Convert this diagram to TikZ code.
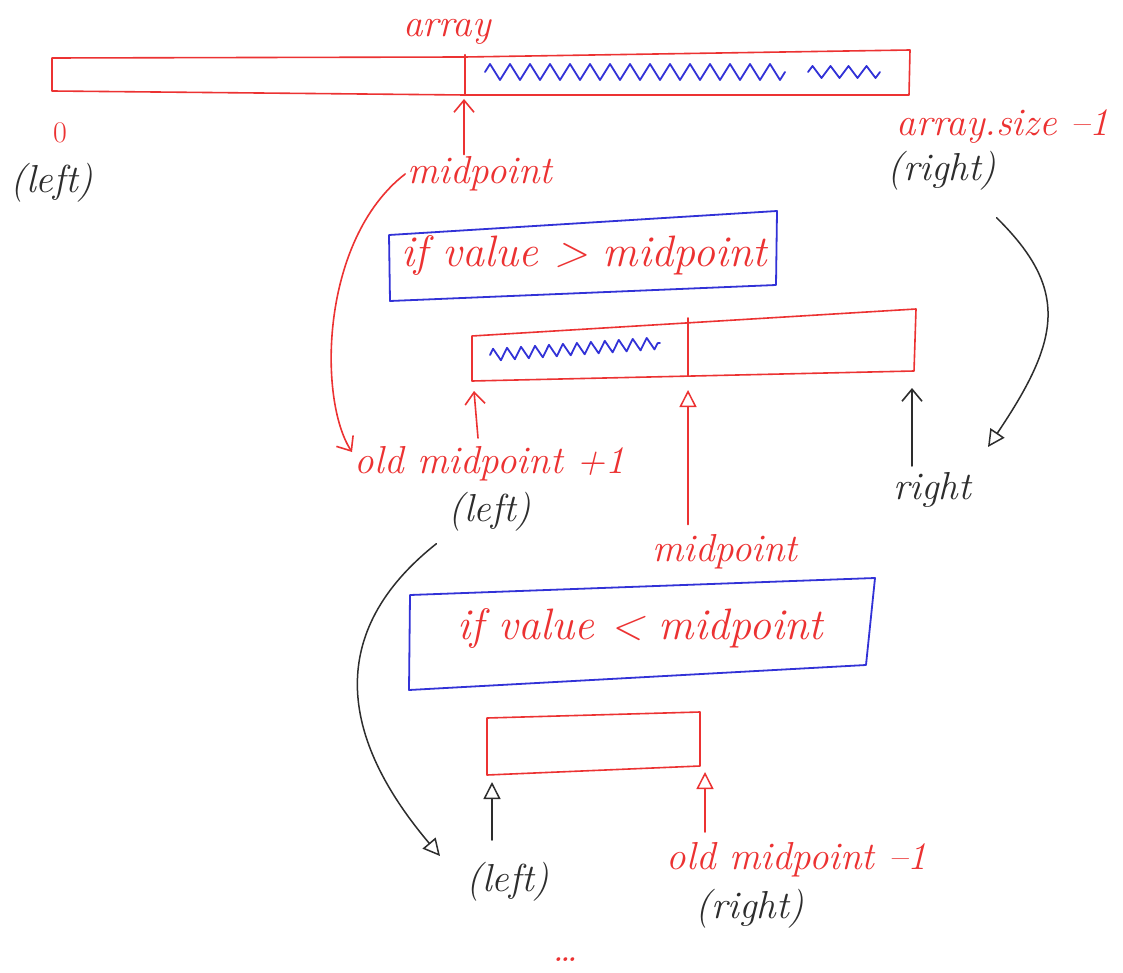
\documentclass[tikz,border=0pt]{standalone}
\usepackage{fontspec}
\usetikzlibrary{arrows.meta,decorations.pathmorphing}
\definecolor{inkred}{RGB}{236,50,50}
\definecolor{inkblue}{RGB}{50,50,215}
\definecolor{inkblack}{RGB}{45,45,45}
\tikzset{
  hand/.style={font=\fontsize{39}{42}\selectfont\itshape, inner sep=2pt},
  bigHand/.style={font=\fontsize{44}{48}\selectfont\itshape},
  redtxt/.style={hand, text=inkred},
  blacktxt/.style={hand, text=inkblack},
  redline/.style={draw=inkred, line width=1.6pt},
  blueline/.style={draw=inkblue, line width=1.8pt},
  blackline/.style={draw=inkblack, line width=1.5pt},
  barb/.style={-{Straight Barb[length=12pt,width=20pt,line width=1.6pt]}},
  tri/.style={-{Triangle[open,length=17pt,width=17pt,line width=1.5pt]}},
  scribble/.style={blueline, decorate, decoration={zigzag,amplitude=8pt,segment length=20pt}}
}
\begin{document}
\begin{tikzpicture}[x=1pt,y=-1pt,line cap=round,line join=round]
\fill[white] (0,0) rectangle (1123,973);
\useasboundingbox (0,0) rectangle (1123,973);

% ---- full array ----
\draw[redline] (52,58) -- (465,57) -- (910,50) -- (909,95) -- (465,95) -- (52,91) -- cycle;
\draw[redline, line width=2.4pt] (465,55) -- (465,95);
\coordinate (arrMid) at (464,99);
\draw[scribble] (485,72) -- (785,72);
\draw[scribble, decoration={zigzag,amplitude=6pt,segment length=18pt}] (808,72) -- (880,72);
\node[redtxt] (arrLbl) at (447,32) {array};

\node[redtxt, font=\fontsize{30}{32}\selectfont] (zero) at (60,133) {0};
\node[blacktxt] (left0) at (52,183) {(left)};
\node[redtxt] (sizeLbl) at (1003,127) {array.size –1};
\node[blacktxt] (right0) at (942,171) {(right)};

\node[redtxt] (mid1) at (480,174) {midpoint};
\draw[redline, barb] (mid1.north -| arrMid) -- (arrMid);

% ---- first test ----
\draw[blueline] (389,235) -- (777,211) -- (776,285) -- (390,301) -- cycle;
\node[redtxt, bigHand] (test1) at (584,256) {if value > midpoint};

% ---- right half ----
\draw[redline] (472,336) -- (916,309) -- (914,371) -- (472,381) -- cycle;
\draw[redline] (688,318) -- (688,376);
\draw[scribble, decoration={zigzag,amplitude=6pt,segment length=14pt}] (490,355) -- (660,343);
\coordinate (halfL) at (474,391);
\coordinate (halfM) at (688,390);
\coordinate (halfR) at (912,388);

\node[redtxt] (old1) at (490,464) {old midpoint +1};
\node[blacktxt] (left1) at (490,512) {(left)};
\node[blacktxt] (right1) at (932,490) {right};
\node[redtxt] (mid2) at (725,552) {midpoint};

\draw[redline, barb] (478,438) -- (halfL);
\draw[redline, tri] (mid2.north -| halfM) ++(0,-8) -- (halfM);
\draw[blackline, barb] (912,466) -- (halfR);

\coordinate (oldTip) at (352,452);
\draw[redline, barb] (mid1.west) .. controls (320,240) and (318,400) .. (oldTip);
\coordinate (rightTip) at (988,447);
\draw[blackline, tri] (right0.south east) ++(-2,25) .. controls (1070,290) and (1060,340) .. (rightTip);

% ---- second test ----
\draw[blueline] (410,595) -- (875,578) -- (866,665) -- (409,690) -- cycle;
\node[redtxt, bigHand] (test2) at (640,628) {if value < midpoint};

% ---- left part ----
\draw[redline] (487,718) -- (700,712) -- (700,766) -- (487,775) -- cycle;
\coordinate (partL) at (492,782);
\coordinate (partR) at (705,772);

\node[blacktxt] (left2) at (508,882) {(left)};
\node[redtxt] (old2) at (797,860) {old midpoint –1};
\node[blacktxt] (right2) at (750,909) {(right)};

\draw[blackline, tri] (492,840) -- (partL);
\draw[redline, tri] (705,832) -- (partR);

\coordinate (leftTip) at (440,856);
\draw[blackline, tri] (left1.south west) ++(-10,10) .. controls (340,620) and (325,720) .. (leftTip);

\node[redtxt] (more) at (565,960) {\dots};
\end{tikzpicture}
\end{document}
